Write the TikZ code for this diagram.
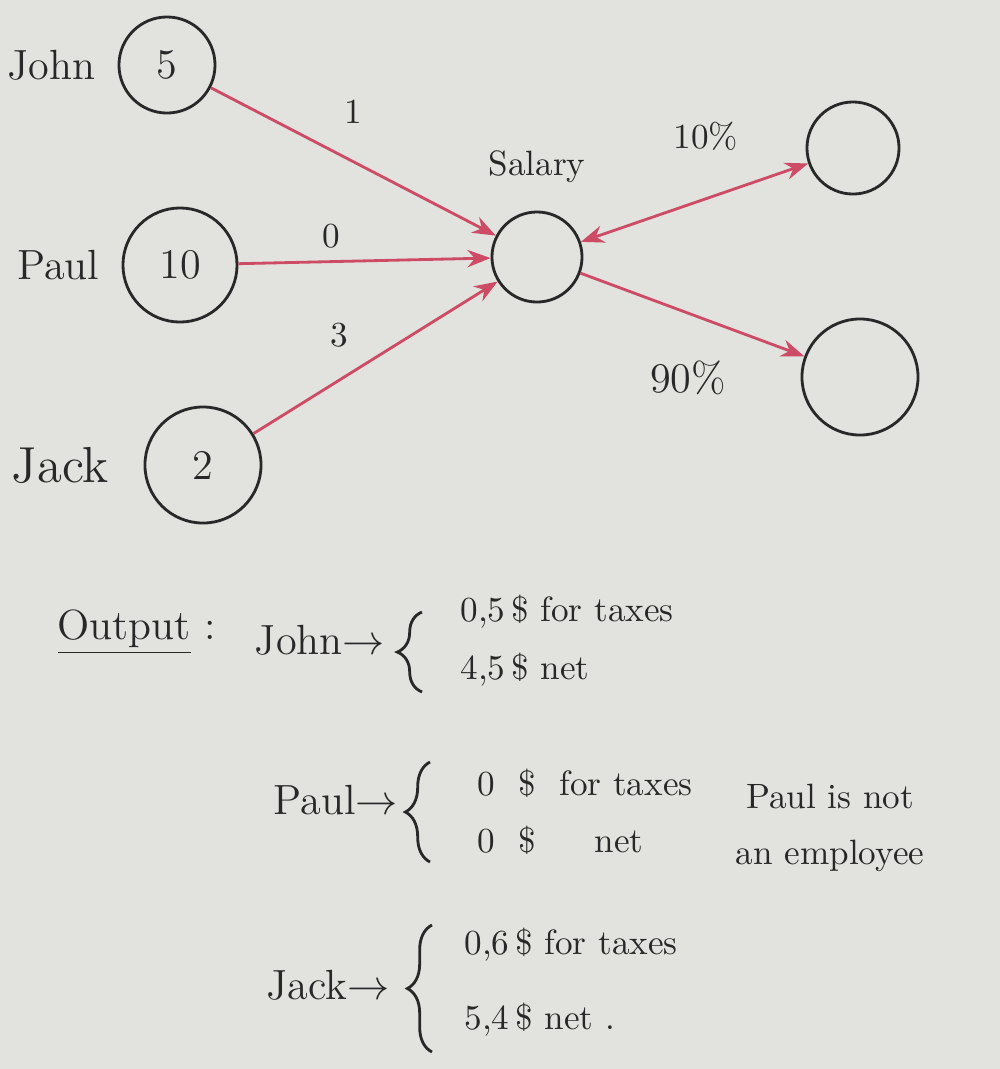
\documentclass[tikz,border=0pt]{standalone}
\usetikzlibrary{positioning, arrows.meta, decorations.pathreplacing}
\definecolor{paper}{RGB}{226,226,222}
\definecolor{ink}{RGB}{40,40,40}
\definecolor{redink}{RGB}{205,75,100}
\tikzset{
    x=0.01cm, y=-0.01cm, % one unit = one pixel of the sketch
    >=Stealth, % arrowheads
    every node/.style={text=ink},
    neuron/.style={circle, draw=ink, thick, inner sep=0pt}, % hand drawn circles
    link/.style={->, draw=redink, thick}, % weighted edges
    curly/.style={decorate, decoration={brace, amplitude=7pt}, draw=ink, thick},
}

\begin{document}
\begin{tikzpicture}
    \useasboundingbox (0,0) rectangle (1000,1069);
    \fill[paper] (0,0) rectangle (1000,1069);

    % inputs
    \node[neuron, minimum size=0.96cm] (john) at (167,65) {\large 5};
    \node[neuron, minimum size=1.14cm] (paul) at (180,265) {\large 10};
    \node[neuron, minimum size=1.16cm] (jack) at (203,465) {\large 2};
    \node[left=0.1cm of john] (johnlabel) {\large John};
    \node[left=0.1cm of paul] (paullabel) {\large Paul};
    \node[left=0.22cm of jack] (jacklabel) {\Large Jack};

    % salary and outputs
    \node[neuron, minimum size=0.9cm] (salary) at (537,257) {};
    \node[above=0.15cm of salary] (salarylabel) {Salary};
    \node[neuron, minimum size=0.92cm] (taxes) at (853,148) {};
    \node[neuron, minimum size=1.16cm] (net) at (860,377) {};

    \path
        (john) edge [link] node[pos=0.5, above=0.25cm] {1} (salary)
        (paul) edge [link] node[pos=0.37, above] {0} (salary)
        (jack) edge [link] node[pos=0.35, above=0.2cm] {3} (salary)
        (salary) edge [link, <->] node[pos=0.55, above=0.35cm] {10\%} (taxes)
        (salary) edge [link] node[pos=0.48, below=0.35cm] {\large 90\%} (net);

    % output
    \node (output) at (137,632) {\large\underline{Output} :};

    \node (johnout) at (320,640) {\large John$\rightarrow$};
    \draw[curly] (422,692) -- (422,612);
    \node[anchor=west] (johntax) at (448,612) {0,5\,\$ for taxes};
    \node[anchor=west] (johnnet) at (448,670) {4,5\,\$ net};

    \node (paulout) at (336,800) {\large Paul$\rightarrow$};
    \draw[curly] (430,862) -- (430,762);
    \node[anchor=west] (paultax) at (465,783) {0 \ \$ \ for taxes};
    \node[anchor=west] (paulnet) at (465,840) {0 \ \$ \quad\ net};
    \node[align=center] (paulnote) at (830,828) {Paul is not\\[4pt] an employee};

    \node (jackout) at (328,985) {\large Jack$\rightarrow$};
    \draw[curly] (432,1052) -- (432,925);
    \node[anchor=west] (jacktax) at (452,945) {0,6\,\$ for taxes};
    \node[anchor=west] (jacknet) at (452,1020) {5,4\,\$ net .};
\end{tikzpicture}
\end{document}
